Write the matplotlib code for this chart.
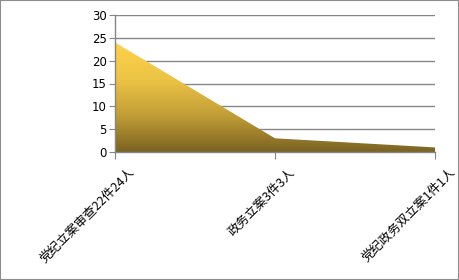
import matplotlib.pyplot as plt
import matplotlib.transforms as mtransforms
from matplotlib.colors import LinearSegmentedColormap
from matplotlib.patches import Rectangle
import numpy as np

categories = ['党纪立案审查22件24人', '政务立案3件3人', '党纪政务双立案1件1人']
values = [24, 3, 1]
y_ticks = [0, 5, 10, 15, 20, 25, 30]

plt.rcParams['font.family'] = ['Noto Sans CJK SC', 'DejaVu Sans']

fig = plt.figure(figsize=(4.59, 2.80), dpi=100)
ax = fig.add_axes([115 / 459, 1 - 152 / 280, 320 / 459, 137 / 280])

x = np.arange(len(categories))
grey = '#868686'

# area with vertical gradient, clipped to the filled polygon
poly = ax.fill_between(x, 0, values, facecolor='none', edgecolor='none')
cmap = LinearSegmentedColormap.from_list(
    'gold', ['#7a6222', '#c29e36', '#ecc445', '#fdd24a'])
grad = np.linspace(0, 1, 256).reshape(-1, 1)
img = ax.imshow(grad, cmap=cmap, origin='lower', aspect='auto',
                extent=[0, len(categories) - 1, 0, max(values)], zorder=2)
img.set_clip_path(poly.get_paths()[0], transform=ax.transData)

ax.set_xlim(0, len(categories) - 1)
ax.set_ylim(0, 30)
ax.set_yticks(y_ticks)
ax.set_xticks(x)
ax.grid(axis='y', color=grey, linewidth=1)
ax.set_axisbelow(True)

for side in ['top', 'right']:
    ax.spines[side].set_visible(False)
for side in ['left', 'bottom']:
    ax.spines[side].set_color(grey)
    ax.spines[side].set_linewidth(1)
    ax.spines[side].set_zorder(3)

ax.tick_params(axis='y', length=4, color=grey, labelsize=8.5, pad=2,
               labelfontfamily='DejaVu Sans')
ax.tick_params(axis='x', length=5, color=grey, pad=0)

ax.set_xticklabels(categories, rotation=45, ha='right', va='center',
                   rotation_mode='anchor', fontsize=9)
offset = mtransforms.ScaledTranslation(13 / 72, -8.5 / 72, fig.dpi_scale_trans)
for lbl in ax.get_xticklabels():
    lbl.set_transform(lbl.get_transform() + offset)

fig.patches.append(Rectangle((0, 0), 1, 1, transform=fig.transFigure,
                             fill=False, edgecolor='#8c8c8c', linewidth=1.5))

fig.savefig('out.png', dpi=100)
